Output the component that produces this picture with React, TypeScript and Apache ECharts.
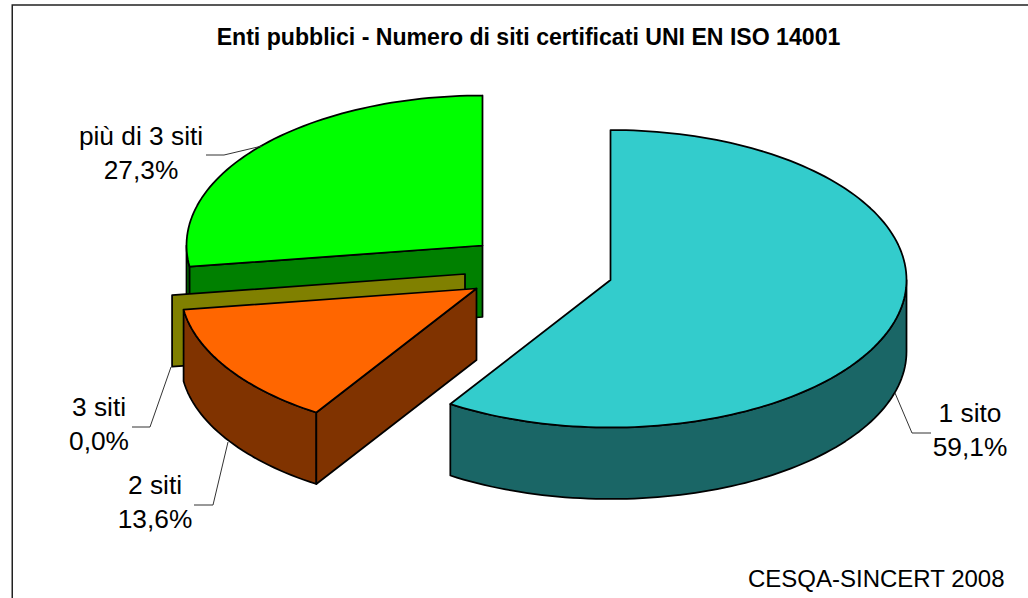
import React, { useEffect, useRef } from "react";
import * as echarts from "echarts";

const titleText = "Enti pubblici - Numero di siti certificati UNI EN ISO 14001";
const sourceText = "CESQA-SINCERT 2008";
const categories = ["1 sito", "2 siti", "3 siti", "più di 3 siti"];
const values = [59.1, 13.6, 0.0, 27.3];
const topColors = ["#33CCCC", "#FF6600", "#808000", "#00FF00"];
const wallColors = ["#1A6666", "#803300", "#808000", "#008000"];
// exploded apex of each slice
const apexX = [610.5, 476.5, 465, 482.5];
const apexY = [280, 288.5, 274, 245.5];
// label centres and leader polylines
const labelX = [970, 155, 99, 141];
const labelY = [429.5, 502, 424, 153];
const leaders = [
  [[931, 433], [912, 433], [895, 393]],
  [[194, 505], [213, 505], [228, 442]],
  [[132, 427], [150, 427], [171, 367]],
  [[206, 155], [224, 155], [262, 146]],
];

const RX = 296;
const RY_BACK = 150;
const RY_FRONT = 147.5;
const DEPTH = 71.5;
const FONT = '"Liberation Sans", Arial, sans-serif';
const total = values.reduce((a, b) => a + b, 0);

function arc(cx: number, cy: number, a0: number, a1: number, dy = 0) {
  const pts: number[][] = [];
  const n = Math.max(1, Math.ceil((a1 - a0) / 1.5));
  for (let i = 0; i <= n; i++) {
    const a = ((a0 + ((a1 - a0) * i) / n) * Math.PI) / 180;
    const c = Math.cos(a);
    pts.push([cx + RX * Math.sin(a), cy - (c > 0 ? RY_BACK : RY_FRONT) * c + dy]);
  }
  return pts;
}

const stroke = { stroke: "#000", lineWidth: 1.75, lineJoin: "round" };

function renderItem(_params: any, api: any) {
  const idx = api.value(1) as number;
  const before = values.slice(0, idx).reduce((a, b) => a + b, 0);
  const a0 = (before / total) * 360;
  const a1 = ((before + (api.value(0) as number)) / total) * 360;
  const cx = apexX[idx];
  const cy = apexY[idx];
  const children: any[] = [];
  const wallFrom = Math.max(a0, 90);
  const wallTo = Math.min(a1, 270);
  if (wallTo > wallFrom) {
    const pts = [...arc(cx, cy, wallFrom, wallTo), ...arc(cx, cy, wallFrom, wallTo, DEPTH).reverse()];
    children.push({ type: "polygon", shape: { points: pts }, style: { fill: wallColors[idx], ...stroke } });
  }
  if (a0 > 180 && a0 < 360) {
    const r = arc(cx, cy, a0, a0)[0];
    children.push({
      type: "polygon",
      shape: { points: [[cx, cy], r, [r[0], r[1] + DEPTH], [cx, cy + DEPTH]] },
      style: { fill: wallColors[idx], ...stroke },
    });
  }
  if (a1 > a0) {
    children.push({
      type: "polygon",
      shape: { points: [[cx, cy], ...arc(cx, cy, a0, a1)] },
      style: { fill: topColors[idx], ...stroke },
    });
  }
  children.push({
    type: "polyline",
    shape: { points: leaders[idx] },
    style: { stroke: "#333", lineWidth: 1, fill: "none" },
  });
  children.push({
    type: "text",
    style: {
      text: `${categories[idx]}\n${values[idx].toFixed(1).replace(".", ",")}%`,
      x: labelX[idx],
      y: labelY[idx],
      fill: "#000",
      font: `26.3px ${FONT}`,
      lineHeight: 34,
      align: "center",
      verticalAlign: "middle",
    },
  });
  return { type: "group", children };
}

export default function App() {
  const ref = useRef<HTMLDivElement>(null);
  useEffect(() => {
    document.body.style.margin = "0";
    document.body.style.background = "#fff";
    const chart = echarts.init(ref.current!, null, { renderer: "svg" });
    chart.setOption({
      animation: false,
      backgroundColor: "#fff",
      title: [
        {
          text: titleText,
          left: 523.5,
          top: 20,
          textAlign: "center",
          textStyle: { fontFamily: FONT, fontSize: 23.1, fontWeight: "bold", color: "#000" },
        },
        {
          text: sourceText,
          left: 743,
          top: 561,
          textStyle: { fontFamily: FONT, fontSize: 24, fontWeight: "normal", color: "#000" },
        },
      ],
      graphic: [
        {
          type: "rect",
          shape: { x: 12.25, y: 5, width: 1030, height: 610 },
          style: { fill: "none", stroke: "#222", lineWidth: 1.5 },
          silent: true,
        },
      ],
      series: [
        {
          type: "custom",
          coordinateSystem: "none",
          renderItem,
          silent: true,
          data: values.map((v, i) => [v, i]).reverse(),
        },
      ],
    });
    return () => chart.dispose();
  }, []);
  return <div ref={ref} style={{ width: 1028, height: 598, position: "absolute", left: 0, top: 0, overflow: "hidden" }} />;
}
